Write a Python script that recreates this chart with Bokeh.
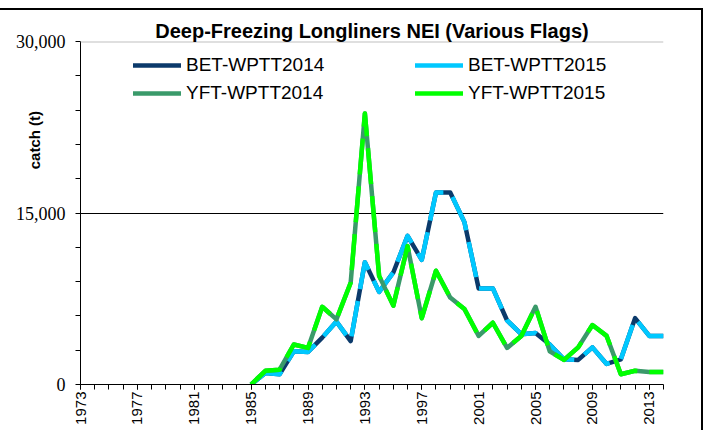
import math
from bokeh.plotting import figure
from bokeh.models import (FixedTicker, Legend, LegendItem, Span,
                          NumeralTickFormatter, Range1d)
from bokeh.embed import file_html
from bokeh.resources import INLINE

# ---------------- data ----------------
years = list(range(1985, 2015))
bet_wptt2014 = [0, 1000, 900, 2900, 2850, 4100, 5500, 3800, 10700, 8100,
                9800, 13000, 10900, 16800, 16800, 14200, 8400, 8400, 5600, 4400,
                4500, 3500, 2200, 2150, 3250, 1800, 2200, 5800, 4250, 4250]
bet_wptt2015 = [0, 1000, 900, 2900, 2850, 4100, 5500, 3800, 10700, 8100,
                9800, 13000, 10900, 16800, 16800, 14200, 8400, 8400, 5600, 4400,
                4500, 3500, 2200, 2150, 3250, 1800, 2200, 5800, 4250, 4250]
yft_wptt2014 = [0, 1200, 1300, 3500, 3200, 6800, 5700, 8900, 23700, 9500,
                6900, 12100, 5800, 9950, 7600, 6600, 4250, 5400, 3200, 4250,
                6800, 2900, 2150, 3250, 5200, 4250, 900, 1200, 1100, 1100]
yft_wptt2015 = [0, 1200, 1300, 3500, 3200, 6800, 5700, 8900, 23700, 9500,
                6900, 12100, 5800, 9950, 7600, 6600, 4250, 5400, 3200, 4250,
                6800, 2900, 2150, 3250, 5200, 4250, 900, 1200, 1100, 1100]

x_label_years = [1973, 1977, 1981, 1985, 1989, 1993, 1997, 2001, 2005, 2009, 2013]
all_years = list(range(1973, 2015))
y_major = [0, 15000, 30000]
y_minor = [3000, 6000, 9000, 12000, 18000, 21000, 24000, 27000]

title_text = "Deep-Freezing Longliners NEI (Various Flags)"
y_title = "catch (t)"

C_BET14 = "#0b3a6b"
C_BET15 = "#00c8ff"
C_YFT14 = "#3a9a6a"
C_YFT15 = "#00ff00"

# ---------------- figure ----------------
p = figure(width=701, height=420, output_backend="svg", toolbar_location=None,
           x_range=Range1d(1973, 2014), y_range=Range1d(0, 30000),
           min_border_left=80, min_border_right=40, min_border_top=31,
           min_border_bottom=48)
p.styles = {"margin-top": "8px", "margin-bottom": "-40px",
            "max-width": "none", "min-width": "701px",
            "box-sizing": "content-box",
            "border-top": "2px solid black", "border-right": "2px solid black"}
p.outline_line_color = None
p.background_fill_color = "white"
p.border_fill_color = "white"

# title
p.title.text = title_text
p.title.align = "center"
p.title.text_font = "Liberation Sans"
p.title.text_font_style = "bold"
p.title.text_font_size = "20px"
p.title.text_color = "black"
p.title.standoff = 0

# grid
p.xgrid.visible = False
p.ygrid.ticker = FixedTicker(ticks=[15000])
p.ygrid.grid_line_color = "black"
p.ygrid.grid_line_width = 1
p.add_layout(Span(location=30000, dimension="width", line_color="#c0c0c0", line_width=2))

# x axis
xa = p.xaxis[0]
xa.ticker = FixedTicker(ticks=x_label_years, minor_ticks=all_years)
xa.major_label_orientation = math.pi / 2
xa.major_label_text_font = "Liberation Sans"
xa.major_label_text_font_size = "15px"
xa.major_label_text_color = "black"
xa.major_tick_in = 0
xa.major_tick_out = 5
xa.minor_tick_in = 0
xa.minor_tick_out = 5
xa.axis_line_color = "black"
xa.major_tick_line_color = "black"
xa.minor_tick_line_color = "black"
xa.major_label_standoff = 2

# y axis
ya = p.yaxis[0]
ya.ticker = FixedTicker(ticks=y_major, minor_ticks=y_minor)
ya.formatter = NumeralTickFormatter(format="0,0")
ya.major_label_text_font = "Liberation Serif"
ya.major_label_text_font_size = "18px"
ya.major_label_text_color = "black"
ya.major_tick_in = 0
ya.major_tick_out = 5
ya.minor_tick_in = 0
ya.minor_tick_out = 5
ya.axis_line_color = "black"
ya.major_tick_line_color = "black"
ya.minor_tick_line_color = "black"
ya.major_label_standoff = 10
# axis title: leading no-break spaces lift the visible words above the axis centre
ya.axis_label = "\u00a0" * 35 + y_title
ya.axis_label_text_font = "Liberation Sans"
ya.axis_label_text_font_style = "bold"
ya.axis_label_text_font_size = "15px"
ya.axis_label_text_color = "black"
ya.axis_label_standoff = -30

# ---------------- series ----------------
p.line(years, bet_wptt2014, line_color=C_BET14, line_width=4.5, line_join="round")
p.line(years, bet_wptt2015, line_color=C_BET15, line_width=4.5, line_join="round",
       line_dash="36 12")
p.line(years, yft_wptt2014, line_color=C_YFT14, line_width=4.5, line_join="round")
p.line(years, yft_wptt2015, line_color=C_YFT15, line_width=4.5, line_join="round",
       line_dash="36 12")

# legend proxies (solid, as in the reference legend), placed outside the visible range
proxy_x = [1960, 1961]
proxy_y = [0, 0]
lg_b14 = p.line(proxy_x, proxy_y, line_color=C_BET14, line_width=4.5, line_cap="round")
lg_b15 = p.line(proxy_x, proxy_y, line_color=C_BET15, line_width=4.5, line_cap="round")
lg_y14 = p.line(proxy_x, proxy_y, line_color=C_YFT14, line_width=4.5, line_cap="round")
lg_y15 = p.line(proxy_x, proxy_y, line_color=C_YFT15, line_width=4.5, line_cap="round")

def make_legend(items, loc):
    return Legend(items=items, location=loc, orientation="vertical",
                  background_fill_alpha=0, border_line_color=None,
                  padding=0, margin=0, spacing=6,
                  glyph_width=48, glyph_height=22, label_height=22,
                  label_standoff=5, label_text_font="Liberation Sans",
                  label_text_font_size="19px", label_text_color="black")

leg1 = make_legend([LegendItem(label="BET-WPTT2014", renderers=[lg_b14]),
                    LegendItem(label="YFT-WPTT2014", renderers=[lg_y14])], (53, 280))
leg2 = make_legend([LegendItem(label="BET-WPTT2015", renderers=[lg_b15]),
                    LegendItem(label="YFT-WPTT2015", renderers=[lg_y15])], (335, 280))
p.add_layout(leg1, "center")
p.add_layout(leg2, "center")

open("out.html", "w").write(file_html(p, INLINE))
